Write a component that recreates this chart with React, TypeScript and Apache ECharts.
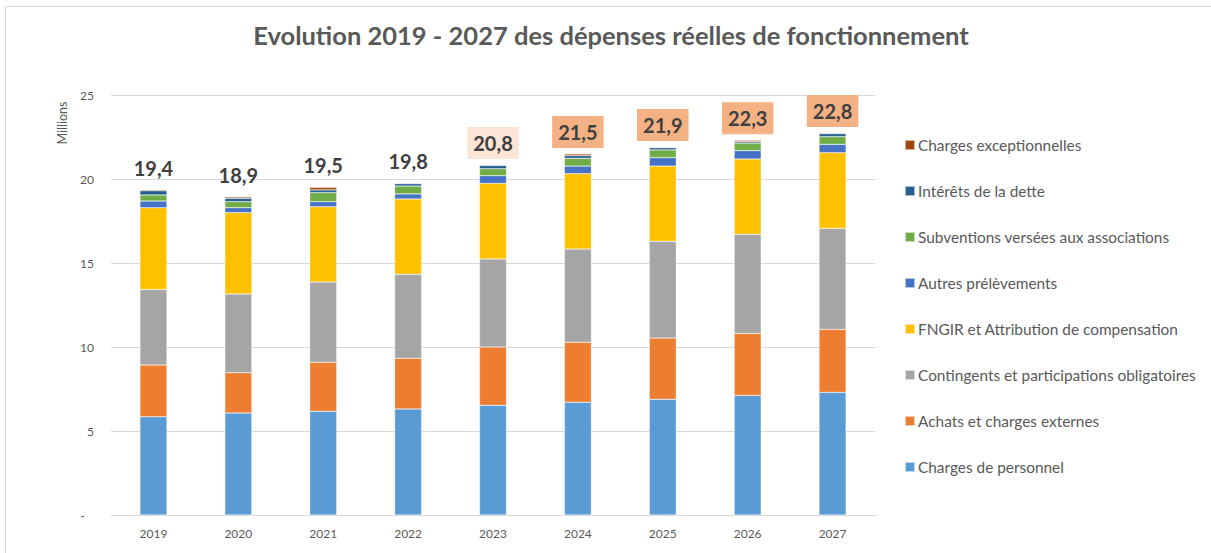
import React, { useEffect, useRef } from "react";
import * as echarts from "echarts";

const years = ["2019", "2020", "2021", "2022", "2023", "2024", "2025", "2026", "2027"];
const personnel = [5.85, 6.07, 6.17, 6.31, 6.53, 6.71, 6.89, 7.12, 7.3];
const achats = [3.08, 2.4, 2.92, 3.02, 3.47, 3.57, 3.65, 3.69, 3.75];
const contingents = [4.5, 4.68, 4.78, 5.0, 5.24, 5.55, 5.75, 5.9, 6.01];
const fngir = [4.86, 4.85, 4.48, 4.48, 4.5, 4.49, 4.48, 4.48, 4.51];
const autres = [0.4, 0.29, 0.3, 0.3, 0.46, 0.45, 0.5, 0.5, 0.49];
const subventions = [0.36, 0.36, 0.54, 0.47, 0.41, 0.46, 0.46, 0.45, 0.46];
const interets = [0.25, 0.2, 0.16, 0.14, 0.2, 0.16, 0.13, 0.08, 0.18];
const exceptionnelles = [0.06, 0.08, 0.15, 0.04, 0.02, 0.1, 0.04, 0.08, 0.04];
const totals = [19.4, 18.9, 19.5, 19.8, 20.8, 21.5, 21.9, 22.3, 22.8];
const yTicks = [0, 5, 10, 15, 20, 25];

const labelBg = ["transparent", "transparent", "transparent", "transparent", "#FBE5D6", "#F4B183", "#F4B183", "#F4B183", "#F4B183"];

const FONT = "Lato, 'Open Sans', sans-serif";

const seriesDefs = [
  { name: "Charges de personnel", data: personnel, color: "#5B9BD5" },
  { name: "Achats et charges externes", data: achats, color: "#ED7D31" },
  { name: "Contingents et participations obligatoires", data: contingents, color: "#A5A5A5" },
  { name: "FNGIR et Attribution de compensation", data: fngir, color: "#FFC000" },
  { name: "Autres prélèvements", data: autres, color: "#4472C4" },
  { name: "Subventions versées aux associations", data: subventions, color: "#70AD47" },
  { name: "Intérêts de la dette", data: interets, color: "#255E91" },
  { name: "Charges exceptionnelles", data: exceptionnelles, color: "#9E480E" },
];

export default function App() {
  const ref = useRef<HTMLDivElement>(null);
  useEffect(() => {
    if (!ref.current) return;
    const chart = echarts.init(ref.current, null, { renderer: "svg" });
    const lastIdx = seriesDefs.length - 1;
    const series = seriesDefs.map((s, i) => ({
      name: s.name,
      type: "bar",
      stack: "total",
      barWidth: 27,
      itemStyle: { color: s.color, borderColor: "rgba(255,255,255,0.6)", borderWidth: 0.5 },
      data:
        i === lastIdx
          ? s.data.map((v, j) => ({
              value: v,
              label: {
                show: true,
                position: "top",
                distance: 6,
                formatter: () => totals[j].toFixed(1).replace(".", ","),
                fontFamily: FONT,
                fontWeight: "bold",
                fontSize: 20,
                color: "#404040",
                backgroundColor: labelBg[j],
                padding: [5, 6, 5, 6],
                lineHeight: 22,
              },
            }))
          : s.data,
    }));
    chart.setOption({
      animation: false,
      textStyle: { fontFamily: FONT },
      title: {
        text: "Evolution 2019 - 2027 des dépenses réelles de fonctionnement",
        left: 606,
        top: 17,
        textAlign: "center",
        textStyle: { fontFamily: FONT, fontWeight: "bold", fontSize: 25.5, color: "#595959" },
      },
      legend: {
        orient: "vertical",
        left: 899,
        top: 131,
        itemWidth: 10,
        itemHeight: 10,
        itemGap: 28,
        icon: "rect",
        data: seriesDefs.map((s) => s.name).reverse(),
        textStyle: { fontFamily: FONT, fontSize: 15.4, color: "#595959", lineHeight: 18, padding: [0, 0, 0, -2] },
      },
      grid: { left: 111, right: 336, top: 95, bottom: 38 },
      xAxis: {
        type: "category",
        data: years,
        axisLine: { lineStyle: { color: "#d9d9d9" } },
        axisTick: { show: false },
        axisLabel: { color: "#595959", fontSize: 12, margin: 12, fontFamily: FONT },
      },
      yAxis: {
        type: "value",
        min: yTicks[0],
        max: yTicks[yTicks.length - 1],
        interval: 5,
        axisLine: { show: false },
        axisTick: { show: false },
        splitLine: { lineStyle: { color: "#d9d9d9" } },
        axisLabel: {
          color: "#595959",
          fontSize: 12,
          margin: 17,
          fontFamily: FONT,
          formatter: (v: number) => (v === 0 ? "-   " : String(v)),
        },
      },
      graphic: [
        {
          type: "rect",
          shape: { x: 5.5, y: 6.5, width: 1300, height: 600 },
          style: { fill: "none", stroke: "#d9d9d9", lineWidth: 1 },
          silent: true,
        },
        {
          type: "text",
          x: 62,
          y: 123,
          rotation: Math.PI / 2,
          style: {
            text: "Millions",
            fontFamily: FONT,
            fontSize: 12.5,
            fill: "#595959",
            textAlign: "center",
            textVerticalAlign: "middle",
          },
        },
      ],
      series,
    });
    return () => chart.dispose();
  }, []);
  return <div ref={ref} style={{ position: "fixed", left: 0, top: 0, width: 1211, height: 553, background: "#fff" }} />;
}
